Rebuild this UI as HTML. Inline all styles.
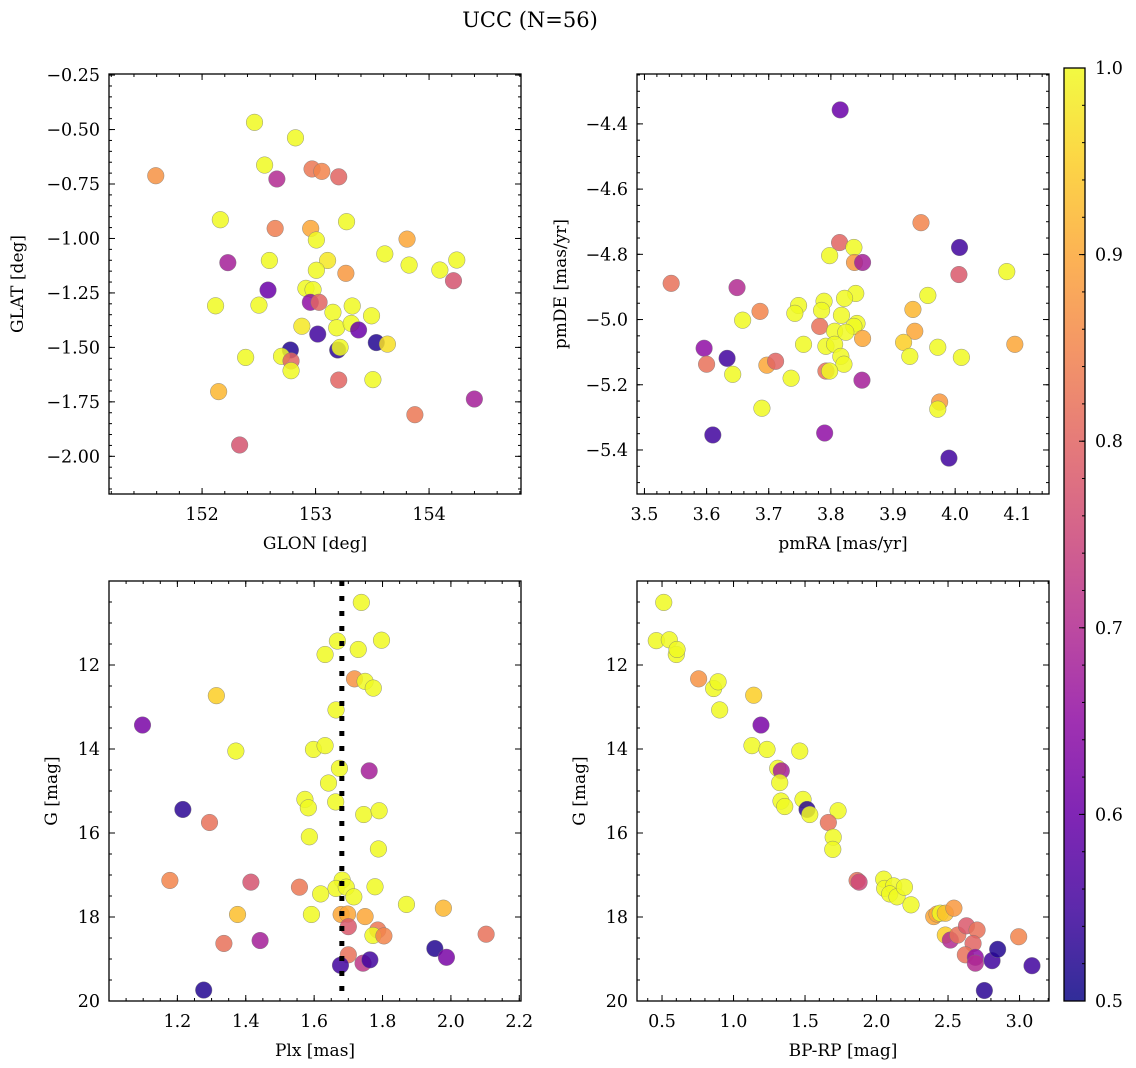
<!DOCTYPE html>
<html><head><meta charset="utf-8">
<style>
html,body{margin:0;padding:0;background:#fff;}
svg{display:block;font-family:"DejaVu Serif","Liberation Serif",serif;}
</style></head>
<body>
<svg id="chart" width="1136" height="1068" viewBox="0 0 1136 1068" xmlns="http://www.w3.org/2000/svg">
<defs>
<linearGradient id="plasma" x1="0" y1="1" x2="0" y2="0">
<stop offset="0" stop-color="#0d0887"/><stop offset="0.1" stop-color="#41049d"/><stop offset="0.2" stop-color="#6a00a8"/><stop offset="0.3" stop-color="#8f0da4"/><stop offset="0.4" stop-color="#b12a90"/><stop offset="0.5" stop-color="#cc4778"/><stop offset="0.6" stop-color="#e16462"/><stop offset="0.7" stop-color="#f2844b"/><stop offset="0.8" stop-color="#fca636"/><stop offset="0.9" stop-color="#fcce25"/><stop offset="1" stop-color="#f0f921"/>
</linearGradient>
</defs>
<text x="530" y="27" font-size="21" text-anchor="middle">UCC (N=56)</text>
</svg>
<script>
// ---- data (top level) ----
const glonVals=[151.592,152.462,152.823,152.551,152.659,152.969,153.055,153.204,152.161,152.644,152.957,153.273,153.007,152.227,152.593,153.610,153.806,153.824,153.106,153.007,153.267,154.095,154.244,154.215,152.581,152.915,152.978,152.119,152.501,152.954,153.031,153.153,153.323,152.879,153.186,153.314,153.493,153.019,153.379,153.535,153.633,152.778,153.195,153.216,152.384,152.700,152.784,152.784,153.204,153.505,152.146,154.399,153.875,152.331];
const glatVals=[-0.712,-0.467,-0.538,-0.663,-0.727,-0.681,-0.692,-0.717,-0.914,-0.954,-0.954,-0.923,-1.007,-1.111,-1.101,-1.071,-1.003,-1.122,-1.101,-1.146,-1.160,-1.145,-1.099,-1.194,-1.237,-1.229,-1.235,-1.309,-1.306,-1.293,-1.293,-1.339,-1.310,-1.403,-1.410,-1.390,-1.355,-1.439,-1.420,-1.478,-1.485,-1.512,-1.512,-1.500,-1.546,-1.541,-1.562,-1.607,-1.650,-1.648,-1.703,-1.737,-1.809,-1.948];
const probA=[0.87,1,1,1,0.7,0.83,0.85,0.8,1,0.84,0.9,1,1,0.68,1,1,0.9,1,0.98,1,0.88,1,1,0.77,0.6,1,1,1,1,0.65,0.8,1,1,0.98,1,1,1,0.55,0.6,0.52,0.97,0.52,0.53,1,1,1,0.8,1,0.8,1,0.92,0.68,0.83,0.77];

const pmraVals=[3.945,4.007,3.814,3.837,3.798,3.838,3.851,4.006,4.083,3.543,3.649,3.956,3.840,3.822,3.789,3.748,3.785,3.742,3.932,3.686,3.658,3.817,3.782,3.842,3.837,3.806,3.824,3.935,3.851,3.917,3.756,3.792,3.806,3.972,4.096,3.596,3.633,3.600,3.697,3.711,3.816,3.927,4.010,3.821,3.642,3.736,3.792,3.798,3.850,3.975,3.972,3.689,3.610,3.790,3.990,3.815];
const pmdeVals=[-4.703,-4.779,-4.764,-4.779,-4.804,-4.825,-4.825,-4.862,-4.853,-4.889,-4.902,-4.926,-4.920,-4.935,-4.944,-4.957,-4.972,-4.981,-4.969,-4.975,-5.002,-4.987,-5.021,-5.012,-5.021,-5.036,-5.039,-5.036,-5.058,-5.070,-5.076,-5.082,-5.076,-5.085,-5.076,-5.088,-5.119,-5.137,-5.140,-5.128,-5.113,-5.113,-5.116,-5.137,-5.168,-5.180,-5.158,-5.158,-5.186,-5.253,-5.275,-5.272,-5.354,-5.348,-5.425,-4.357];
const probB=[0.85,0.55,0.8,1,1,0.88,0.68,0.78,1,0.82,0.7,1,1,1,1,1,1,1,0.92,0.85,1,1,0.82,1,1,1,1,0.9,0.9,0.95,1,1,1,1,0.9,0.65,0.55,0.82,0.9,0.8,1,1,1,1,1,1,0.82,1,0.68,0.88,1,1,0.55,0.65,0.55,0.6];

const plxVals=[1.738,1.668,1.797,1.729,1.632,1.718,1.749,1.773,1.314,1.664,1.098,1.371,1.598,1.632,1.674,1.761,1.642,1.573,1.583,1.663,1.745,1.790,1.216,1.294,1.586,1.788,1.178,1.415,1.557,1.682,1.664,1.694,1.619,1.716,1.778,1.870,1.978,1.376,1.592,1.679,1.698,1.749,1.700,1.786,1.772,1.804,2.103,1.336,1.442,1.953,1.987,1.700,1.743,1.763,1.677,1.277];
const gmagC=[10.51,11.43,11.41,11.63,11.75,12.33,12.39,12.55,12.73,13.07,13.43,14.05,14.01,13.92,14.46,14.52,14.81,15.20,15.40,15.26,15.56,15.47,15.44,15.75,16.09,16.38,17.13,17.17,17.29,17.12,17.32,17.29,17.45,17.52,17.28,17.70,17.79,17.94,17.94,17.94,17.93,17.99,18.23,18.31,18.44,18.45,18.41,18.63,18.56,18.75,18.96,18.90,19.10,19.02,19.15,19.74];
const probC=[1,1,1,1,1,0.87,1,1,0.95,1,0.62,1,1,1,1,0.68,1,1,1,1,1,1,0.53,0.82,1,1,0.85,0.77,0.83,1,1,1,1,1,1,1,0.92,0.93,1,0.9,0.9,0.9,0.78,0.83,1,0.85,0.82,0.82,0.68,0.52,0.62,0.82,0.72,0.55,0.55,0.52];

const bprpVals=[0.512,0.460,0.551,0.600,0.605,0.756,0.861,0.892,0.903,1.141,1.192,1.129,1.234,1.463,1.309,1.334,1.323,1.332,1.358,1.486,1.514,1.533,1.731,1.663,1.697,1.694,1.864,1.878,2.050,2.057,2.120,2.092,2.143,2.195,2.241,2.400,2.423,2.446,2.481,2.541,2.481,2.516,2.568,2.629,2.703,2.675,2.621,2.691,2.691,2.808,2.847,2.994,3.087,2.754];
const gmagD=[10.51,11.42,11.40,11.75,11.63,12.33,12.56,12.40,13.07,12.72,13.43,13.92,14.01,14.05,14.46,14.52,14.80,15.24,15.37,15.20,15.44,15.56,15.47,15.75,16.10,16.39,17.13,17.17,17.10,17.32,17.26,17.45,17.52,17.29,17.71,17.99,17.93,17.91,17.91,17.79,18.43,18.55,18.43,18.21,18.31,18.63,18.90,18.96,19.10,19.04,18.77,18.47,19.16,19.75];
const probD=[1,1,1,1,1,0.87,1,1,1,0.95,0.62,1,1,1,1,0.68,1,1,1,1,0.53,1,1,0.82,1,1,0.82,0.75,1,1,1,1,1,1,1,0.9,0.9,1,0.93,0.88,0.95,0.7,0.82,0.78,0.82,0.8,0.82,0.65,0.7,0.55,0.52,0.85,0.55,0.53];

const plxLine=1.681;
const ticksGlon=[152,153,154], ticksGlat=[-0.25,-0.5,-0.75,-1.0,-1.25,-1.5,-1.75,-2.0];
const ticksPmra=[3.5,3.6,3.7,3.8,3.9,4.0,4.1], ticksPmde=[-4.4,-4.6,-4.8,-5.0,-5.2,-5.4];
const ticksPlx=[1.2,1.4,1.6,1.8,2.0,2.2], ticksG=[12,14,16,18,20];
const ticksBprp=[0.5,1.0,1.5,2.0,2.5,3.0], ticksCbar=[0.5,0.6,0.7,0.8,0.9,1.0];

const NS='http://www.w3.org/2000/svg';
const svg=document.getElementById('chart');
const TF=17.5, AF=17;
function mk(tag,attrs,parent){const e=document.createElementNS(NS,tag);for(const k in attrs)e.setAttribute(k,attrs[k]);(parent||svg).appendChild(e);return e;}
const stops=['#0d0887','#41049d','#6a00a8','#8f0da4','#b12a90','#cc4778','#e16462','#f2844b','#fca636','#fcce25','#f0f921'];
function hex(h){return [parseInt(h.substr(1,2),16),parseInt(h.substr(3,2),16),parseInt(h.substr(5,2),16)];}
function plasma(v){let t=(v-0.5)/0.5;t=Math.max(0,Math.min(1,t));const f=t*10,i=Math.min(9,Math.floor(f)),r=f-i;const a=hex(stops[i]),b=hex(stops[i+1]);return 'rgb('+a.map((c,k)=>Math.round(c+(b[k]-c)*r)).join(',')+')';}
function fmt(v,d){return (v<0?'\u2212':'')+Math.abs(v).toFixed(d);}

function panel(o){
  const g=mk('g',{});
  
  
  const sx=v=>o.x0+(v-o.xmin)/(o.xmax-o.xmin)*(o.x1-o.x0);
  const sy=v=>o.y1-(v-o.ymin)/(o.ymax-o.ymin)*(o.y1-o.y0);
  for(let i=0;i<o.xs.length;i++){
    const c=mk('circle',{cx:sx(o.xs[i]),cy:sy(o.ys[i]),r:8.3,fill:plasma(o.cs[i]),'fill-opacity':0.85,stroke:'#777','stroke-width':0.5,'stroke-opacity':0.8},g);
    
    
  }
  if(o.vline!==undefined){
    const l=mk('line',{x1:sx(o.vline),x2:sx(o.vline),y1:o.y0,y2:o.y1,stroke:'#000','stroke-width':5,'stroke-dasharray':'5,10'},g);
    
    
  }
  const tk=mk('g',{stroke:'#000','stroke-width':1},g);
  
  
  const lo=Math.min(o.xmin,o.xmax),hi=Math.max(o.xmin,o.xmax);
  for(let v=Math.ceil(lo/o.xminor-1e-6)*o.xminor;v<=hi+1e-9;v+=o.xminor){const X=sx(v);mk('line',{x1:X,x2:X,y1:o.y1,y2:o.y1-3},tk);mk('line',{x1:X,x2:X,y1:o.y0,y2:o.y0+3},tk);}
  const ylo=Math.min(o.ymin,o.ymax),yhi=Math.max(o.ymin,o.ymax);
  for(let v=Math.ceil(ylo/o.yminor-1e-6)*o.yminor;v<=yhi+1e-9;v+=o.yminor){const Y=sy(v);mk('line',{x1:o.x0,x2:o.x0+3,y1:Y,y2:Y},tk);mk('line',{x1:o.x1,x2:o.x1-3,y1:Y,y2:Y},tk);}
  o.xt.forEach(v=>{const X=sx(v);mk('line',{x1:X,x2:X,y1:o.y1,y2:o.y1-6},tk);mk('line',{x1:X,x2:X,y1:o.y0,y2:o.y0+6},tk);
    const t=mk('text',{x:X,y:o.y1+26,'font-size':TF,'text-anchor':'middle'},g);t.textContent=fmt(v,o.xd);
    });
  o.yt.forEach(v=>{const Y=sy(v);mk('line',{x1:o.x0,x2:o.x0+6,y1:Y,y2:Y},tk);mk('line',{x1:o.x1,x2:o.x1-6,y1:Y,y2:Y},tk);
    const t=mk('text',{x:o.x0-9,y:Y+6,'font-size':TF,'text-anchor':'end'},g);t.textContent=fmt(v,o.yd);
    });
  const fr=mk('rect',{x:o.x0,y:o.y0,width:o.x1-o.x0,height:o.y1-o.y0,fill:'none',stroke:'#000','stroke-width':1.3},g);
  
  const xl=mk('text',{x:(o.x0+o.x1)/2,y:o.y1+55,'font-size':AF,'text-anchor':'middle'},g);xl.textContent=o.xlabel;
  
  const yl=mk('text',{x:o.ylx,y:(o.y0+o.y1)/2,'font-size':AF,'text-anchor':'middle',transform:'rotate(-90 '+o.ylx+' '+((o.y0+o.y1)/2)+')'},g);yl.textContent=o.ylabel;
  
}

panel({name:'panel-glon-glat',x0:109,x1:521,y0:74,y1:494,xmin:151.18,xmax:154.81,ymin:-2.173,ymax:-0.245,xs:glonVals,ys:glatVals,cs:probA,xt:ticksGlon,yt:ticksGlat,xd:0,yd:2,xminor:0.2,yminor:0.05,xlabel:'GLON [deg]',ylabel:'GLAT [deg]',ylx:23});
panel({name:'panel-pmra-pmde',x0:637,x1:1049,y0:74,y1:494,xmin:3.488,xmax:4.151,ymin:-5.535,ymax:-4.247,xs:pmraVals,ys:pmdeVals,cs:probB,xt:ticksPmra,yt:ticksPmde,xd:1,yd:1,xminor:0.02,yminor:0.05,xlabel:'pmRA [mas/yr]',ylabel:'pmDE [mas/yr]',ylx:566});
panel({name:'panel-plx-g',x0:109,x1:521,y0:581,y1:1001,xmin:1.0,xmax:2.205,ymin:20,ymax:10,xs:plxVals,ys:gmagC,cs:probC,xt:ticksPlx,yt:ticksG,xd:1,yd:0,xminor:0.05,yminor:0.5,xlabel:'Plx [mas]',ylabel:'G [mag]',ylx:57,vline:plxLine});
panel({name:'panel-cmd',x0:637,x1:1049,y0:581,y1:1001,xmin:0.325,xmax:3.206,ymin:20,ymax:10,xs:bprpVals,ys:gmagD,cs:probD,xt:ticksBprp,yt:ticksG,xd:1,yd:0,xminor:0.1,yminor:0.5,xlabel:'BP-RP [mag]',ylabel:'G [mag]',ylx:585});

const cb=mk('g',{});


const cy0=68,cy1=1001,cx0=1064,cx1=1085;
const cyS=v=>cy1-(v-0.5)/0.5*(cy1-cy0);
mk('rect',{x:cx0,y:cy0,width:cx1-cx0,height:cy1-cy0,fill:'url(#plasma)','fill-opacity':0.85},cb);
mk('rect',{x:cx0,y:cy0,width:cx1-cx0,height:cy1-cy0,fill:'none',stroke:'#000','stroke-width':1.3},cb);
for(let v=0.5;v<=1.0001;v+=0.02){mk('line',{x1:cx1,x2:cx1-3,y1:cyS(v),y2:cyS(v),stroke:'#000'},cb);}
ticksCbar.forEach(v=>{mk('line',{x1:cx1,x2:cx1-6,y1:cyS(v),y2:cyS(v),stroke:'#000'},cb);
  const t=mk('text',{x:cx1+10,y:cyS(v)+6,'font-size':TF},cb);t.textContent=v.toFixed(1);
  });
</script>
</body></html>
